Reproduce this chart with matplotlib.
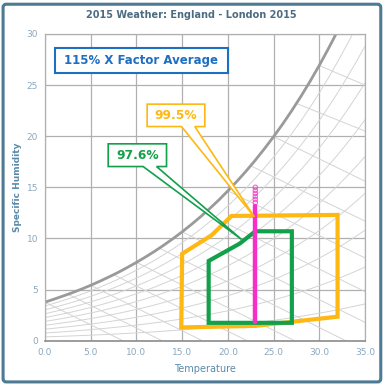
"""
2015 Weather: England - London — psychrometric chart with X-factor regions
"""

import numpy as np
import matplotlib
matplotlib.use('Agg')
import matplotlib.pyplot as plt
from matplotlib.patches import Polygon, Rectangle, FancyBboxPatch

plt.rcParams['font.family'] = ['DejaVu Sans']

C_ORANGE = '#fdb813'
C_GREEN = '#12a04a'
C_PINK = '#f72fc9'
C_BLUE = '#1f6fc1'
C_GRID = '#b0b0b0'
C_CURVE = '#9a9a9a'
C_THIN = '#d4d4d4'
C_TITLE = '#4d6c82'
C_TICK = '#8ba7bd'
C_LABEL = '#5a8aab'
C_FRAME = '#4e7a93'

# saturation curve (specific humidity g/kg vs temperature)
sat_t = [0, 1, 2, 3, 4, 5, 6, 7, 8, 9, 10, 11, 12, 13, 14, 15, 16, 17, 18,
         19, 20, 21, 22, 23, 24, 25, 26, 27, 28, 29, 30, 31, 32, 33, 34, 35]
sat_q = [3.77, 4.07, 4.38, 4.70, 5.05, 5.42, 5.82, 6.24, 6.68, 7.16, 7.66,
         8.19, 8.75, 9.35, 9.98, 10.65, 11.36, 12.11, 12.91, 13.75, 14.65,
         15.59, 16.59, 17.65, 18.77, 19.95, 21.19, 22.51, 23.90, 25.37, 26.92,
         28.56, 30.28, 32.10, 34.00, 36.00]
rh_levels = [0.1, 0.2, 0.3, 0.4, 0.5, 0.6, 0.7, 0.8, 0.9]

# wet bulb lines: (t0, q0) on saturation -> (t1, q1)
wb_t0 = [0, 2.5, 5, 7.5, 10, 12.5, 15, 17.5, 20, 22.5, 25, 27.5, 30]
wb_q0 = [3.77, 4.55, 5.42, 6.45, 7.66, 9.05, 10.65, 12.5, 14.65, 17.1, 19.95, 23.2, 26.9]
wb_t1 = [8.5, 12.8, 17.2, 22.1, 27.3, 32.9, 35, 35, 35, 35, 35, 35, 35]
wb_q1 = [0, 0, 0, 0, 0, 0, 1.8, 4.8, 8.1, 11.7, 15.6, 20.5, 25.0]

# 99.5% region
orange_t = [15.0, 18.2, 20.4, 32.0, 32.0, 23.0, 14.9]
orange_q = [8.5, 10.3, 12.2, 12.3, 2.35, 1.45, 1.3]
# 97.6% region
green_t = [17.9, 21.3, 23.0, 27.0, 27.0, 17.9]
green_q = [7.8, 9.5, 10.7, 10.7, 1.75, 1.75]

# weather data points
pink_t = 23.0
pink_q_solid = [1.8, 13.2]
pink_q_pts = [13.5, 13.8, 14.1, 14.4, 14.7, 15.0]

labels = ['99.5%', '97.6%']
headline = '115% X Factor Average'

fig = plt.figure(figsize=(3.85, 3.85), dpi=100)
ax = fig.add_axes([0.117, 0.115, 0.831, 0.797])
ax.set_xlim(0, 35)
ax.set_ylim(0, 30)

# background psychrometric lines
t_arr = np.array(sat_t)
q_arr = np.array(sat_q)
for rh in rh_levels:
    ax.plot(t_arr, q_arr * rh, color=C_THIN, lw=0.7, zorder=1)
for t0, q0, t1, q1 in zip(wb_t0, wb_q0, wb_t1, wb_q1):
    ax.plot([t0, t1], [q0, q1], color=C_THIN, lw=0.7, zorder=1)

ax.set_xticks(np.arange(0, 36, 5))
ax.set_yticks(np.arange(0, 31, 5))
ax.grid(True, color=C_GRID, lw=0.9, zorder=1.5)
ax.set_axisbelow(True)
for s in ax.spines.values():
    s.set_color(C_GRID)
    s.set_linewidth(0.9)
ax.spines['bottom'].set_color('#8c8c8c')
ax.spines['bottom'].set_linewidth(1.2)
ax.tick_params(length=0, pad=5, labelsize=6.5, colors=C_TICK)
ax.set_xticklabels([f'{v:.1f}' for v in np.arange(0, 36, 5)])

ax.plot(sat_t, sat_q, color=C_CURVE, lw=2.0, zorder=2)

ax.add_patch(Polygon(list(zip(orange_t, orange_q)), closed=True, fill=False,
                     edgecolor=C_ORANGE, lw=3.0, joinstyle='miter', zorder=3))
ax.add_patch(Polygon(list(zip(green_t, green_q)), closed=True, fill=False,
                     edgecolor=C_GREEN, lw=3.0, joinstyle='miter', zorder=4))

ax.plot([pink_t, pink_t], pink_q_solid, color=C_PINK, lw=3.2,
        solid_capstyle='round', zorder=6)
ax.scatter([pink_t] * len(pink_q_pts), pink_q_pts, s=10, facecolor='none',
           edgecolor=C_PINK, lw=0.8, alpha=0.75, zorder=6)


def callout(x0, x1, y0, y1, b0, b1, tip, color, text):
    pts = [(x0, y1), (x1, y1), (x1, y0), (b1, y0), tip, (b0, y0), (x0, y0)]
    ax.add_patch(Polygon(pts, closed=True, facecolor='white', edgecolor=color,
                         lw=1.2, joinstyle='miter', zorder=7))
    ax.text((x0 + x1) / 2, (y0 + y1) / 2, text, color=color, fontsize=8.8,
            fontweight='bold', ha='center', va='center', zorder=8)


callout(11.17, 17.48, 20.94, 23.13, 14.93, 16.38, (22.9, 12.1), C_ORANGE, labels[0])
callout(6.91, 13.29, 17.03, 19.25, 10.73, 12.2, (21.5, 9.9), C_GREEN, labels[1])

ax.add_patch(Rectangle((0.031, 0.872), 0.54, 0.083, transform=ax.transAxes,
                       facecolor='white', edgecolor=C_BLUE, lw=1.5, zorder=7))
ax.text(0.301, 0.913, headline, transform=ax.transAxes, color=C_BLUE,
        fontsize=8.5, fontweight='bold', ha='center', va='center', zorder=8)

ax.set_xlabel('Temperature', color=C_LABEL, fontsize=7, labelpad=5)
ax.set_ylabel('Specific Humidity', color=C_LABEL, fontsize=6.5,
              fontweight='bold', labelpad=3)
fig.text(0.498, 0.961, '2015 Weather: England - London 2015', color=C_TITLE,
         fontsize=7, fontweight='bold', ha='center', va='center')

fig.patches.append(FancyBboxPatch((0.008, 0.008), 0.981, 0.981,
                                  boxstyle='round,pad=0,rounding_size=0.008',
                                  transform=fig.transFigure, fill=False,
                                  edgecolor=C_FRAME, lw=2.2))

fig.savefig('out.png', dpi=100)
plt.close(fig)
